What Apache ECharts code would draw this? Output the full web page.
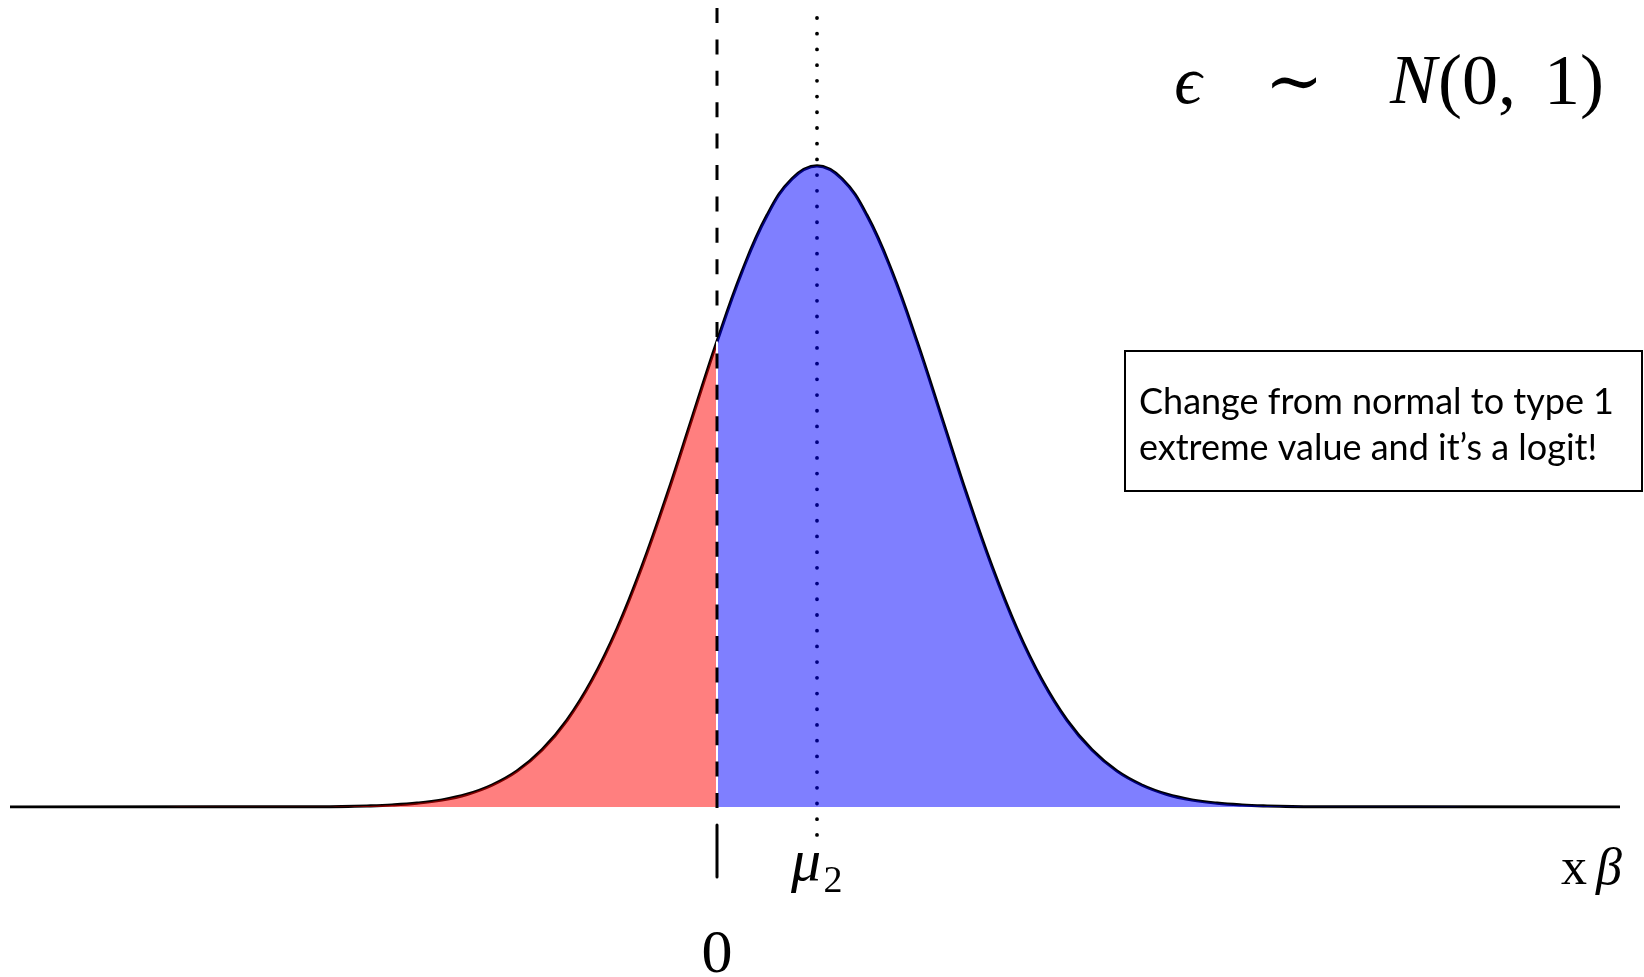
<!DOCTYPE html>
<html>
<head>
<meta charset="utf-8">
<script src="https://cdn.jsdelivr.net/npm/echarts@6/dist/echarts.min.js"></script>
<style>
  html, body { margin: 0; padding: 0; background: #ffffff; }
  #chart { width: 1644px; height: 977px; }
</style>
</head>
<body>
<div id="chart"></div>
<script>
// Latent index x·β: density sampled every 0.25 units
const xs = [
  -4, -3.75, -3.5, -3.25, -3, -2.75, -2.5, -2.25, -2, -1.75, -1.5, -1.25, -1, -0.75, -0.5, -0.25,
  0, 0.25, 0.5, 0.75, 1, 1.25, 1.5, 1.75, 2, 2.25, 2.5, 2.75, 3, 3.25, 3.5, 3.75,
  4, 4.25, 4.5, 4.75, 5, 5.25, 5.5, 5.75, 6
];
const density = [
  0.0001, 0.0002, 0.0005, 0.0010, 0.0019, 0.0035, 0.0063, 0.0109, 0.0179, 0.0284, 0.0432, 0.0632, 0.0887, 0.1198, 0.1553, 0.1936,
  0.2318, 0.2666, 0.2946, 0.3128, 0.3192, 0.3128, 0.2946, 0.2666, 0.2318, 0.1936, 0.1553, 0.1198, 0.0887, 0.0632, 0.0432, 0.0284,
  0.0179, 0.0109, 0.0063, 0.0035, 0.0019, 0.0010, 0.0005, 0.0002, 0.0001
];
const MU2 = 1;      // mean of the index
const CUT = 0;      // threshold
const X_MIN = -7.07;
const X_MAX = 9.03;

const pts = xs.map((x, i) => [x, density[i]]);
const outline = [[X_MIN, 0]].concat(pts, [[X_MAX, 0]]);
const below = [[X_MIN, 0]].concat(pts.filter(p => p[0] <= CUT));
const above = pts.filter(p => p[0] >= CUT).concat([[X_MAX, 0]]);
const cutHeight = density[xs.indexOf(CUT)];

const SERIF = '"Liberation Serif", "DejaVu Serif", serif';

const chart = echarts.init(document.getElementById('chart'), null, { renderer: 'canvas' });

chart.setOption({
  animation: false,
  backgroundColor: '#ffffff',
  grid: { left: 10, right: 24, top: 3.7, bottom: 170 },
  xAxis: { type: 'value', min: X_MIN, max: X_MAX, show: false },
  yAxis: { type: 'value', min: 0, max: 0.4, show: false },
  series: [
    {
      name: 'curve',
      type: 'line',
      data: outline,
      smooth: 0.4,
      symbol: 'none',
      silent: true,
      z: 2,
      lineStyle: { color: '#000000', width: 3.2 }
    },
    {
      name: 'y = 0',
      type: 'line',
      data: below,
      smooth: 0.4,
      symbol: 'none',
      silent: true,
      z: 3,
      lineStyle: { width: 0, opacity: 0 },
      areaStyle: { color: 'rgba(255,0,0,0.5)', opacity: 1 },
      markLine: {
        silent: true,
        symbol: 'none',
        label: { show: false },
        lineStyle: { color: '#ffffff', width: 2, type: 'solid' },
        data: [[{ coord: [CUT, 0] }, { coord: [CUT, cutHeight] }]]
      }
    },
    {
      name: 'y = 1',
      type: 'line',
      data: above,
      smooth: 0.4,
      symbol: 'none',
      silent: true,
      z: 3,
      lineStyle: { width: 0, opacity: 0 },
      areaStyle: { color: 'rgba(0,0,255,0.5)', opacity: 1 }
    }
  ]
});

const xCut = chart.convertToPixel({ xAxisIndex: 0 }, CUT);
const xMu = chart.convertToPixel({ xAxisIndex: 0 }, MU2);
const yBase = chart.convertToPixel({ yAxisIndex: 0 }, 0);

function label(text, x, y, size, opts) {
  return {
    type: 'text', z: 10, silent: true, x: x, y: y,
    style: {
      text: text,
      font: (opts && opts.italic ? 'italic ' : '') + size + 'px ' + SERIF,
      fill: '#000', align: (opts && opts.align) || 'center', verticalAlign: 'middle'
    }
  };
}

chart.setOption({
  graphic: [
    // dotted line through the mean (sits beneath the shaded area)
    {
      type: 'line', z: 1, silent: true,
      shape: { x1: xMu, y1: 18, x2: xMu, y2: yBase + 31 },
      style: { stroke: '#000000', lineWidth: 3.8, lineDash: [0.01, 15.7], lineCap: 'round' }
    },
    // dashed threshold line
    {
      type: 'line', z: 10, silent: true,
      shape: { x1: xCut, y1: 8, x2: xCut, y2: yBase + 1 },
      style: { stroke: '#000000', lineWidth: 3, lineDash: [15, 16.4] }
    },
    // tick below the axis at the threshold
    {
      type: 'line', z: 10, silent: true,
      shape: { x1: xCut, y1: yBase + 18, x2: xCut, y2: yBase + 70 },
      style: { stroke: '#000000', lineWidth: 3, lineCap: 'round' }
    },
    // axis labels
    label('0', xCut, 956, 62),
    label('μ', xMu - 11, 864, 60, { italic: true }),
    label('2', xMu + 16, 882, 38),
    label('x', 1574, 870, 52),
    label('β', 1609, 870, 52, { italic: true }),
    // distribution of the error term
    label('ϵ', 1188, 85, 68, { italic: true }),
    label('∼', 1294, 87, 70),
    label('N', 1390, 85, 70, { italic: true, align: 'left' }),
    label('(0,', 1438, 85, 72, { align: 'left' }),
    label('1)', 1604, 85, 72, { align: 'right' }),
    // note box
    {
      type: 'rect', z: 10, silent: true,
      shape: { x: 1125, y: 351, width: 517, height: 140 },
      style: { fill: '#ffffff', stroke: '#000000', lineWidth: 2 }
    },
    {
      type: 'text', z: 11, silent: true, x: 1139, y: 379,
      style: {
        text: 'Change from normal to type 1\nextreme value and it’s a logit!',
        font: '36px Lato, "Open Sans", sans-serif', fill: '#000',
        lineHeight: 46, align: 'left', verticalAlign: 'top'
      }
    }
  ]
});
</script>
</body>
</html>
